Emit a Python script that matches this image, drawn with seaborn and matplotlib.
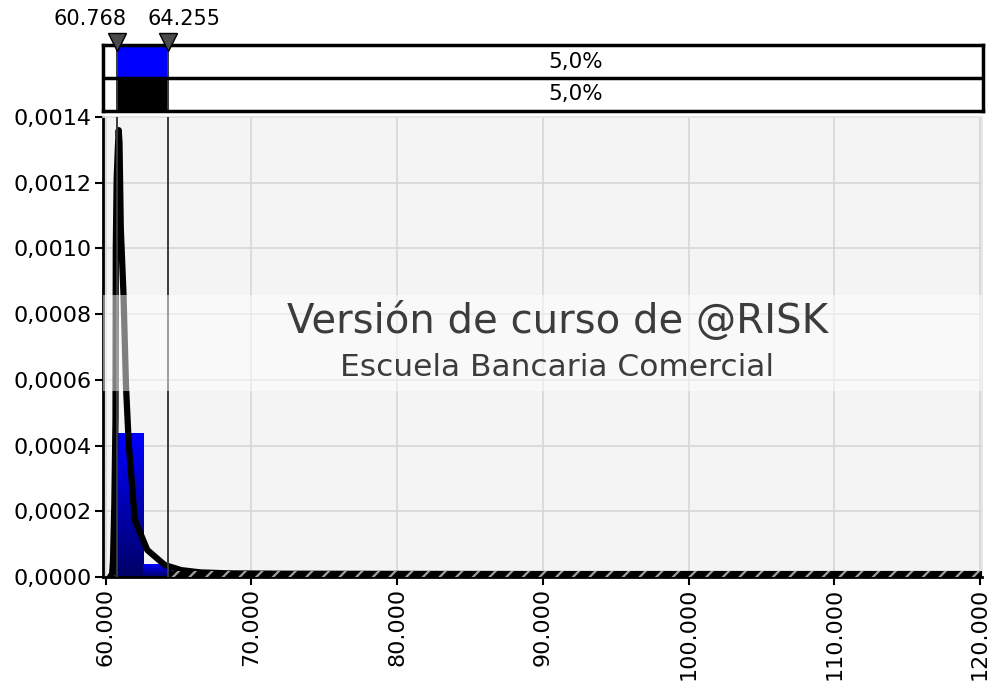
import numpy as np
import pandas as pd
import matplotlib
matplotlib.use('Agg')
import matplotlib.pyplot as plt
import seaborn as sns
from matplotlib.colors import LinearSegmentedColormap
from matplotlib.ticker import FuncFormatter

# histogram bins (left edges) and densities
bin_left = [60615, 62599, 64583, 66567, 68551, 70535, 72519]
bin_width = 1984
bin_height = [0.000438, 0.0000366, 0.000012, 0.000008, 0.000005, 0.000004, 0.000003]

# fitted density curve
curve_x = [60300, 60450, 60508, 60600, 60680, 60700, 60760, 60837, 60900, 60954, 61043,
           61229, 61400, 61592, 62004, 62860, 64056, 65175, 66500, 68500, 72000, 80000,
           90000, 100000, 110000, 120000]
curve_y = [0.0, 0.00001, 0.00005, 0.00022, 0.00048, 0.0010, 0.00121, 0.0013, 0.00136, 0.00132, 0.00106,
           0.00086, 0.00058, 0.000402, 0.000174, 0.0000823, 0.0000366, 0.000021, 0.000014, 0.000011, 0.00001, 0.0000095,
           0.000009, 0.000009, 0.000009, 0.000009]

# delimiters and band percentages
marks = [60768, 64255]
mark_labels = ['60.768', '64.255']
pct_right = ['5,0%', '5,0%']

xmin, xmax = 59822, 120137

sns.set_theme(style='white')
plt.rcParams['font.family'] = ['DejaVu Sans']
plt.rcParams['hatch.linewidth'] = 1.6

fig = plt.figure(figsize=(9.98, 6.91), dpi=100)
ax = fig.add_axes([103 / 998, (691 - 577) / 691, (982 - 103) / 998, (577 - 117) / 691])
ax.set_facecolor('#f4f4f4')

# bars with vertical gradient
cmap = LinearSegmentedColormap.from_list('bl', ['#000066', '#0000ff'])
grad = np.linspace(0, 1, 100).reshape(-1, 1)
for left, h in zip(bin_left, bin_height):
    ax.imshow(grad, extent=[left, left + bin_width, 0, h], origin='lower', aspect='auto',
              cmap=cmap, zorder=2, interpolation='bilinear')

sns.lineplot(x=curve_x, y=curve_y, color='black', linewidth=4.5, ax=ax, zorder=4, sort=False)

# hatched tail band
ax.fill_between([64300, xmax], 0, 0.0000195, facecolor='black', edgecolor='#a0a0a0',
                hatch='//', linewidth=0, zorder=5)

for m in marks:
    ax.axvline(m, color='#3a3a3a', linewidth=1.4, zorder=5)

# watermark band
ax.axhspan(0.000567, 0.000857, color='white', alpha=0.5, linewidth=0, zorder=6)
ax.text(0.517, 0.555, 'Versión de curso de @RISK', transform=ax.transAxes, ha='center', va='center',
        fontsize=29, color='#3c3c3c', zorder=7)
ax.text(0.517, 0.455, 'Escuela Bancaria Comercial', transform=ax.transAxes, ha='center', va='center',
        fontsize=22.5, color='#3c3c3c', zorder=7)

ax.set_xlim(xmin, xmax)
ax.set_ylim(0, 0.0014)
ax.set_xticks(np.arange(60000, 120001, 10000))
ax.set_yticks(np.arange(0, 0.00141, 0.0002))
ax.xaxis.set_major_formatter(FuncFormatter(lambda v, p: f'{v:,.0f}'.replace(',', '.')))
ax.yaxis.set_major_formatter(FuncFormatter(lambda v, p: f'{v:.4f}'.replace('.', ',')))
ax.grid(True, color='#d6d6d6', linewidth=1.2, zorder=1)
ax.set_axisbelow(True)
ax.tick_params(axis='both', direction='out', length=6, width=1.5, color='black', labelsize=16,
               labelcolor='black', bottom=True, left=True, pad=2)
ax.tick_params(axis='x', labelrotation=90)
for s in ['left', 'bottom']:
    ax.spines[s].set_color('black')
    ax.spines[s].set_linewidth(2)
for s in ['top', 'right']:
    ax.spines[s].set_color('#e4e4e4')
    ax.spines[s].set_linewidth(1.2)

# top percentage band
bx = fig.add_axes([103 / 998, (691 - 111) / 691, (983 - 103) / 998, 66 / 691])
bx.set_xlim(xmin, xmax)
bx.set_ylim(0, 2)
bx.set_facecolor('white')
bx.fill_between(marks, 1, 2, color='#0000ff', linewidth=0)
bx.fill_between(marks, 0, 1, color='black', linewidth=0)
for m in marks:
    bx.axvline(m, color='#3a3a3a', linewidth=1.4)
bx.axhline(1, color='black', linewidth=2.5)
for s in bx.spines.values():
    s.set_color('black')
    s.set_linewidth(2.5)
bx.set_xticks([])
bx.set_yticks([])
cx = (marks[1] + xmax) / 2
bx.text(cx, 1.5, pct_right[0], ha='center', va='center', fontsize=15.5, color='black')
bx.text(cx, 0.5, pct_right[1], ha='center', va='center', fontsize=15.5, color='black')
label_shift = [-19.5, 11.5]
for m, lab, dx in zip(marks, mark_labels, label_shift):
    bx.plot([m], [2.08], marker='v', markersize=12.5, markerfacecolor='#4a4a4a',
            markeredgecolor='black', markeredgewidth=1, clip_on=False, zorder=10)
    bx.annotate(lab, xy=(m, 2), xytext=(dx, 18.5), textcoords='offset points', ha='center',
                va='center', fontsize=15, color='black', annotation_clip=False)

fig.savefig('out.png', dpi=100)
